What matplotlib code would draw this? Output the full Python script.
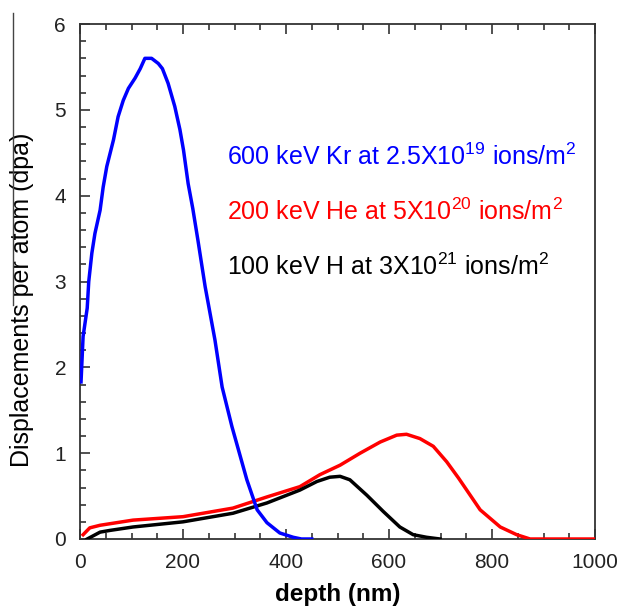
import matplotlib
matplotlib.use("Agg")
import matplotlib.pyplot as plt
from matplotlib.lines import Line2D
from matplotlib.ticker import MultipleLocator

# Damage profiles (depth in nm, displacements per atom)
kr_depth = [2, 6, 14, 17, 23, 29, 39, 45, 52, 65, 74, 84, 94, 107, 117, 126, 139,
            152, 160, 171, 184, 194, 201, 210, 219, 229, 243, 262, 276, 295, 324,
            344, 363, 388, 414, 430, 450]
kr_dpa = [1.83, 2.36, 2.69, 3.00, 3.33, 3.56, 3.83, 4.10, 4.34, 4.65, 4.92, 5.11,
          5.25, 5.37, 5.48, 5.60, 5.60, 5.54, 5.48, 5.31, 5.04, 4.77, 4.53, 4.14,
          3.85, 3.48, 2.94, 2.32, 1.77, 1.31, 0.69, 0.34, 0.19, 0.07, 0.02, 0.00,
          0.00]

he_depth = [6, 19, 39, 103, 200, 297, 363, 427, 466, 505, 544, 583, 615, 634, 660,
            686, 712, 735, 777, 816, 848, 874, 1000]
he_dpa = [0.05, 0.13, 0.16, 0.22, 0.26, 0.36, 0.49, 0.61, 0.75, 0.86, 1.00, 1.13,
          1.21, 1.22, 1.17, 1.08, 0.90, 0.71, 0.34, 0.14, 0.05, 0.00, 0.00]

h_depth = [14, 39, 58, 103, 200, 297, 363, 427, 460, 485, 505, 524, 557, 589, 621,
           647, 673, 699]
h_dpa = [0.00, 0.08, 0.10, 0.14, 0.20, 0.30, 0.42, 0.57, 0.67, 0.72, 0.73, 0.69,
         0.51, 0.32, 0.14, 0.05, 0.02, 0.00]

x_ticks = [0, 200, 400, 600, 800, 1000]
y_ticks = [0, 1, 2, 3, 4, 5, 6]

labels = [
    (r'600 keV Kr at 2.5X10$^{19}$ ions/m$^{2}$', '#0000ff'),
    (r'200 keV He at 5X10$^{20}$ ions/m$^{2}$', '#ff0000'),
    (r'100 keV H at 3X10$^{21}$ ions/m$^{2}$', '#000000'),
]

plt.rcParams['font.family'] = ['Liberation Sans', 'DejaVu Sans']
plt.rcParams['mathtext.default'] = 'regular'
plt.rcParams['mathtext.fontset'] = 'custom'
plt.rcParams['mathtext.rm'] = 'Liberation Sans'
plt.rcParams['mathtext.it'] = 'Liberation Sans'

fig = plt.figure(figsize=(6.17, 6.09), dpi=100)
ax = fig.add_axes([80 / 617, 70 / 609, 515 / 617, 515 / 609])

ax.plot(he_depth, he_dpa, color='#ff0000', lw=2.5, zorder=3)
ax.plot(h_depth, h_dpa, color='#000000', lw=2.5, zorder=4)
ax.plot(kr_depth, kr_dpa, color='#0000ff', lw=2.5, zorder=5)

ax.set_xlim(0, 1000)
ax.set_ylim(0, 6)
ax.set_xticks(x_ticks)
ax.set_yticks(y_ticks)
ax.xaxis.set_minor_locator(MultipleLocator(50))
ax.yaxis.set_minor_locator(MultipleLocator(0.2))

spine_col = '#333333'
for s in ax.spines.values():
    s.set_color(spine_col)
    s.set_linewidth(1.3)

ax.tick_params(which='both', direction='in', top=True, right=False,
               color=spine_col, width=1.2, labelcolor='#222222', labelsize=15)
ax.tick_params(which='major', length=7, pad=10)
ax.tick_params(which='minor', length=4)

ax.set_xlabel('depth (nm)', fontsize=17.5, fontweight='bold', labelpad=8)
ax.set_ylabel('Displacements per atom (dpa)', fontsize=18, va='center')
ax.yaxis.set_label_coords(-0.112, 0.465)

ann_size = 18
for i, (txt, col) in enumerate(labels):
    ax.text(0.285, 0.727 - 0.107 * i, txt, color=col, fontsize=ann_size,
            transform=ax.transAxes)

# thin rule beside the upper part of the y label
fig.add_artist(Line2D([12.5 / 617, 12.5 / 617], [1 - 13 / 609, 1 - 305 / 609],
                      transform=fig.transFigure, color='#444444', lw=1.0))

fig.savefig('out.png', dpi=100)
